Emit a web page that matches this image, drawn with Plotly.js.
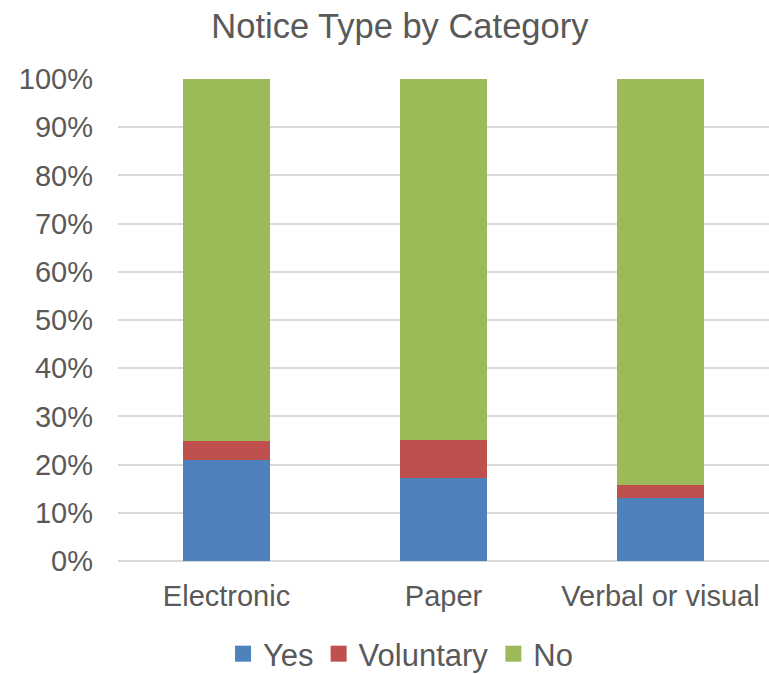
<!DOCTYPE html>
<html>
<head>
<meta charset="utf-8">
<script src="https://cdn.plot.ly/plotly-3.0.1.min.js"></script>
<style>
  html, body { margin: 0; padding: 0; background: #ffffff; }
  #chart { width: 769px; height: 674px; }
</style>
</head>
<body>
<div id="chart"></div>
<script>
// Notice categories and the share (%) of each answer within them
const categories = ['Electronic', 'Paper', 'Verbal or visual'];
const yesShare = [21.0, 17.3, 13.0];
const voluntaryShare = [4.0, 7.9, 2.7];
const noShare = [75.0, 74.8, 84.3];
const seriesNames = ['Yes', 'Voluntary', 'No'];
const yTickValues = [0, 10, 20, 30, 40, 50, 60, 70, 80, 90, 100];
const yTickLabels = ['0%', '10%', '20%', '30%', '40%', '50%', '60%', '70%', '80%', '90%', '100%'];

const seriesColors = ['#4F81BD', '#C0504D', '#9BBB59'];
const textColor = '#595959';
const fontFamily = '"Liberation Sans", Arial, sans-serif';

// Stacked bars (legend entries are drawn by the key traces below,
// which use larger square swatches than bar legends allow)
const barTraces = [yesShare, voluntaryShare, noShare].map((values, i) => ({
  type: 'bar',
  name: seriesNames[i],
  legendgroup: seriesNames[i],
  showlegend: false,
  x: categories,
  y: values,
  marker: { color: seriesColors[i], line: { width: 0 } },
  hovertemplate: '%{x}<br>' + seriesNames[i] + ': %{y}%<extra></extra>'
}));

const keyTraces = seriesNames.map((name, i) => ({
  type: 'scatter',
  mode: 'markers',
  name: name,
  legendgroup: name,
  x: [null],
  y: [null],
  marker: { symbol: 'square', size: 17, color: seriesColors[i] },
  hoverinfo: 'skip'
}));

const layout = {
  width: 769,
  height: 674,
  barmode: 'stack',
  bargap: 0.6,
  paper_bgcolor: '#ffffff',
  plot_bgcolor: '#ffffff',
  margin: { l: 118, r: 0, t: 79, b: 113, pad: 0, autoexpand: false },
  font: { family: fontFamily, color: textColor, size: 29 },
  title: {
    text: 'Notice Type by Category',
    font: { family: fontFamily, size: 34.5, color: textColor },
    x: 0.52,
    xanchor: 'center',
    y: 0.962,
    yanchor: 'middle'
  },
  xaxis: {
    type: 'category',
    range: [-0.5, 2.5],
    showgrid: false,
    zeroline: false,
    showline: false,
    ticks: '',
    tickfont: { family: fontFamily, size: 29, color: textColor },
    ticklabelstandoff: 15
  },
  yaxis: {
    range: [0, 100],
    tickvals: yTickValues,
    ticktext: yTickLabels,
    showgrid: true,
    gridcolor: '#d9d9d9',
    gridwidth: 1.5,
    zeroline: true,
    zerolinecolor: '#d9d9d9',
    zerolinewidth: 1.5,
    showline: false,
    ticks: '',
    ticklabelstandoff: 24,
    tickfont: { family: fontFamily, size: 29, color: textColor }
  },
  showlegend: true,
  legend: {
    orientation: 'h',
    x: 0.434,
    xanchor: 'center',
    y: -0.193,
    yanchor: 'middle',
    font: { family: fontFamily, size: 31, color: textColor },
    itemsizing: 'trace',
    itemwidth: 30,
    traceorder: 'normal'
  },
  hovermode: 'closest'
};

Plotly.newPlot('chart', barTraces.concat(keyTraces), layout, { displayModeBar: false });
</script>
</body>
</html>
